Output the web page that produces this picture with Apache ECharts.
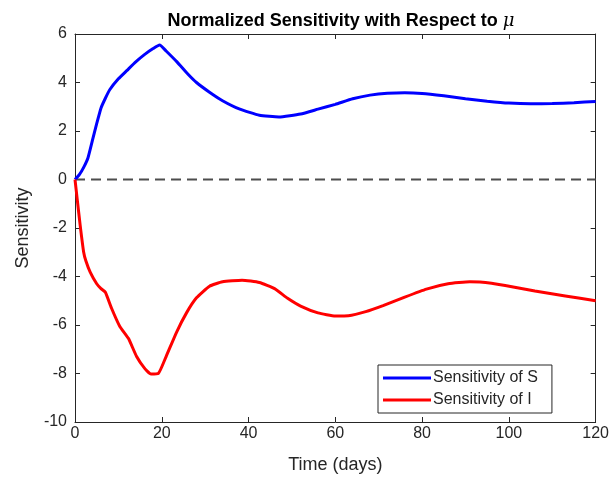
<!DOCTYPE html>
<html>
<head>
<meta charset="utf-8">
<script src="https://cdn.jsdelivr.net/npm/echarts@6/dist/echarts.min.js"></script>
<style>html,body{margin:0;padding:0;background:#fff;}#chart{width:612px;height:479px;}</style>
</head>
<body>
<div id="chart"></div>
<script>
// Data
var sTime = [0, 1, 2, 3, 4, 5, 6, 7, 8, 10, 12, 14, 16, 18, 19.5, 21, 23.5, 26, 28, 31, 34, 38, 42.5, 47, 52, 56, 60, 64, 68, 72, 76, 80, 85, 90, 95, 100, 105, 110, 115, 120];
var sValues = [0, 0.2, 0.5, 0.9, 1.6, 2.3, 2.95, 3.35, 3.7, 4.15, 4.5, 4.85, 5.15, 5.4, 5.55, 5.3, 4.85, 4.35, 4.0, 3.6, 3.25, 2.9, 2.65, 2.58, 2.7, 2.9, 3.1, 3.33, 3.48, 3.56, 3.58, 3.55, 3.45, 3.33, 3.23, 3.15, 3.12, 3.13, 3.17, 3.22];
var iTime = [0, 0.5, 1.2, 2, 2.5, 3.5, 5, 6, 7, 8.4, 10.3, 12.3, 14.2, 16.1, 17.5, 19.2, 21, 23.4, 25.7, 28, 31, 34, 38.5, 42.5, 46, 49, 52, 56, 60, 63, 67, 71, 76, 81, 86, 91, 96, 101, 106, 113, 120];
var iValues = [0, -0.8, -1.9, -3.0, -3.35, -3.82, -4.3, -4.5, -4.65, -5.3, -6.05, -6.55, -7.3, -7.8, -8.02, -8.0, -7.3, -6.3, -5.5, -4.88, -4.4, -4.22, -4.15, -4.25, -4.5, -4.9, -5.22, -5.5, -5.63, -5.62, -5.45, -5.2, -4.85, -4.52, -4.3, -4.22, -4.28, -4.43, -4.6, -4.8, -5.0];
var zeroTime = [0, 120];
var zeroValues = [0, 0];
var seriesNames = ['Sensitivity of S', 'Sensitivity of I'];
var titleText = 'Normalized Sensitivity with Respect to ';
var xName = 'Time (days)';
var yName = 'Sensitivity';

function pairs(xs, ys) { return xs.map(function (x, i) { return [x, ys[i]]; }); }

var axisColor = '#262626';
var font = 'Liberation Sans, Arial, Helvetica, sans-serif';
var chart = echarts.init(document.getElementById('chart'));
chart.setOption({
  animation: false,
  title: {
    text: '{b|' + titleText + '}{mu|μ}',
    left: 336, top: 7, textAlign: 'center',
    textStyle: {
      rich: {
        b: { fontFamily: font, fontSize: 18, fontWeight: 'bold', color: '#000' },
        mu: { fontFamily: 'DejaVu Serif, serif', fontSize: 18, fontStyle: 'italic', fontWeight: 'normal', color: '#000' }
      }
    }
  },
  grid: { left: 75, right: 15, top: 34, bottom: 56 },
  legend: {
    orient: 'vertical', left: 378, top: 365,
    data: seriesNames,
    icon: 'rect', itemWidth: 48, itemHeight: 3, itemGap: 6,
    backgroundColor: '#fff', borderColor: axisColor, borderWidth: 1,
    padding: [5, 14, 5, 5],
    textStyle: { fontFamily: font, fontSize: 16, color: axisColor, padding: [0, 0, 0, -3] }
  },
  xAxis: [{
    type: 'value', min: 0, max: 120, interval: 20,
    name: xName, nameLocation: 'middle', nameGap: 34,
    nameTextStyle: { fontFamily: font, fontSize: 18, color: axisColor },
    axisLine: { onZero: false, lineStyle: { color: axisColor, width: 1 } },
    axisTick: { inside: true, length: 5, lineStyle: { color: axisColor } },
    axisLabel: { fontFamily: font, fontSize: 16, color: axisColor, margin: 4 },
    splitLine: { show: false }
  }, {
    type: 'value', min: 0, max: 120, interval: 20, position: 'top',
    axisLine: { show: true, onZero: false, lineStyle: { color: axisColor, width: 1 } },
    axisTick: { show: true, inside: true, length: 5, lineStyle: { color: axisColor } },
    axisLabel: { show: false }, splitLine: { show: false }
  }],
  yAxis: [{
    type: 'value', min: -10, max: 6, interval: 2,
    name: yName, nameLocation: 'middle', nameGap: 43,
    nameTextStyle: { fontFamily: font, fontSize: 18, color: axisColor },
    axisLine: { show: true, onZero: false, lineStyle: { color: axisColor, width: 1 } },
    axisTick: { show: true, inside: true, length: 5, lineStyle: { color: axisColor } },
    axisLabel: { fontFamily: font, fontSize: 16, color: axisColor, margin: 8 },
    splitLine: { show: false }
  }, {
    type: 'value', min: -10, max: 6, interval: 2, position: 'right',
    axisLine: { show: true, onZero: false, lineStyle: { color: axisColor, width: 1 } },
    axisTick: { show: true, inside: true, length: 5, lineStyle: { color: axisColor } },
    axisLabel: { show: false }, splitLine: { show: false }
  }],
  series: [{
    name: 'zero', type: 'line', data: pairs(zeroTime, zeroValues),
    showSymbol: false, silent: true,
    lineStyle: { color: '#4d4d4d', width: 2, type: [10, 6] }, z: 1
  }, {
    name: seriesNames[0], type: 'line', data: pairs(sTime, sValues),
    showSymbol: false, smooth: 0.15,
    lineStyle: { color: '#0000ff', width: 3 }, itemStyle: { color: '#0000ff' }, z: 3
  }, {
    name: seriesNames[1], type: 'line', data: pairs(iTime, iValues),
    showSymbol: false, smooth: 0.15,
    lineStyle: { color: '#ff0000', width: 3 }, itemStyle: { color: '#ff0000' }, z: 3
  }]
});
</script>
</body>
</html>
